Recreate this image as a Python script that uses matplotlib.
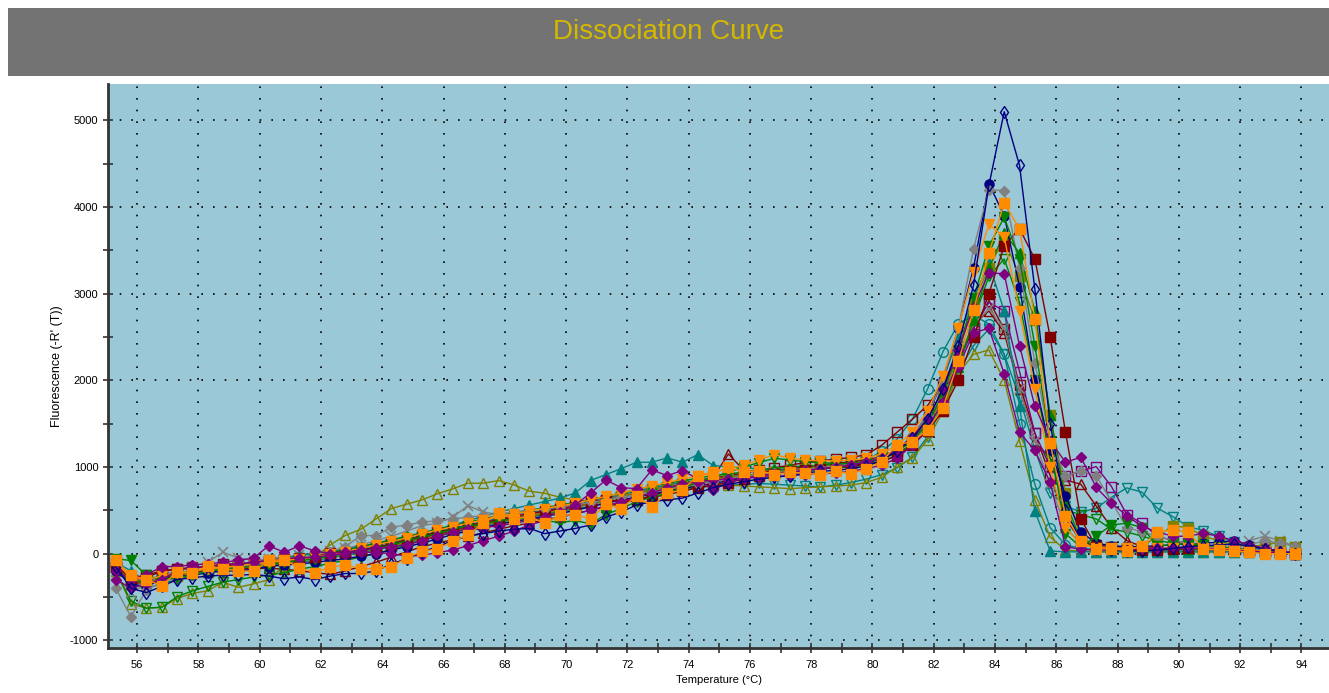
import matplotlib
matplotlib.use("Agg")
import matplotlib.pyplot as plt
from matplotlib.ticker import MultipleLocator

plt.rcParams["font.family"] = ["Liberation Sans", "DejaVu Sans"]
plt.rcParams["axes.unicode_minus"] = False

# temperature grid (deg C)
temps = [55.3, 55.8, 56.3, 56.8, 57.3, 57.8, 58.3, 58.8, 59.3, 59.8,
         60.3, 60.8, 61.3, 61.8, 62.3, 62.8, 63.3, 63.8, 64.3, 64.8,
         65.3, 65.8, 66.3, 66.8, 67.3, 67.8, 68.3, 68.8, 69.3, 69.8,
         70.3, 70.8, 71.3, 71.8, 72.3, 72.8, 73.3, 73.8, 74.3, 74.8,
         75.3, 75.8, 76.3, 76.8, 77.3, 77.8, 78.3, 78.8, 79.3, 79.8,
         80.3, 80.8, 81.3, 81.8, 82.3, 82.8, 83.3, 83.8, 84.3, 84.8,
         85.3, 85.8, 86.3, 86.8, 87.3, 87.8, 88.3, 88.8, 89.3, 89.8,
         90.3, 90.8, 91.3, 91.8, 92.3, 92.8, 93.3, 93.8]

navy_open_diamond = [
    -150, -400, -450, -380, -300, -280, -260, -250, -250, -240,
    -260, -290, -270, -300, -260, -230, -230, -200, -120, -60,
    20, 80, 150, 200, 230, 260, 280, 290, 230, 260,
    290, 330, 420, 480, 560, 600, 620, 640, 700, 760,
    800, 830, 860, 880, 900, 930, 950, 960, 980, 1010,
    1080, 1180, 1330, 1550, 1900, 2400, 3100, 4250, 5100, 4480,
    3050, 1500, 500, 150, 60, 40, 30, 30, 40, 60,
    80, 90, 100, 110, 90, 50, 20, 0]
navy_circle = [
    -200, -350, -380, -300, -260, -250, -220, -200, -200, -180,
    -150, -130, -120, -100, -80, -60, -30, 0, 40, 80,
    120, 170, 220, 260, 300, 340, 370, 400, 430, 460,
    500, 540, 580, 620, 650, 690, 720, 750, 780, 810,
    840, 870, 900, 920, 940, 960, 980, 1000, 1020, 1040,
    1100, 1200, 1350, 1600, 2000, 2600, 3300, 4270, 3900, 3080,
    2000, 1200, 670, 250, 120, 90, 80, 80, 90, 100,
    110, 120, 130, 150, 100, 60, 30, 10]
maroon_square = [
    -150, -280, -250, -200, -180, -170, -150, -140, -130, -120,
    -90, -60, -50, -40, 10, 20, 40, 70, 110, 160,
    200, 250, 280, 320, 360, 390, 430, 460, 490, 520,
    560, 590, 620, 600, 620, 650, 680, 720, 760, 790,
    820, 860, 900, 920, 950, 970, 980, 1000, 1010, 1030,
    1060, 1130, 1250, 1420, 1650, 2000, 2500, 3000, 3550, 3750,
    3400, 2500, 1400, 400, 80, 50, 40, 40, 40, 50,
    60, 60, 50, 40, 30, 20, 10, 0]
maroon_open_square = [
    -100, -300, -280, -200, -180, -160, -150, -120, -120, -100,
    -80, -70, -60, -40, -20, 0, 30, 60, 100, 140,
    180, 220, 260, 300, 330, 370, 400, 430, 460, 500,
    540, 580, 620, 650, 690, 720, 760, 800, 840, 870,
    900, 930, 960, 990, 1020, 1050, 1070, 1090, 1110, 1140,
    1250, 1400, 1550, 1710, 1950, 2250, 2600, 2920, 2590, 1950,
    1390, 900, 400, 150, 100, 80, 70, 60, 60, 60,
    60, 60, 60, 50, 40, 30, 20, 10]
maroon_open_triangle = [
    -120, -350, -330, -280, -250, -220, -200, -190, -180, -170,
    -170, -180, -200, -220, -240, -200, -150, -100, -40, 20,
    80, 120, 160, 200, 240, 280, 320, 350, 390, 420,
    460, 500, 540, 580, 620, 670, 720, 770, 820, 880,
    1150, 960, 940, 960, 980, 1000, 1020, 1040, 1060, 1080,
    1120, 1200, 1330, 1500, 1800, 2200, 2650, 2800, 2550, 1900,
    1300, 1100, 850, 800, 550, 300, 150, 80, 60, 50,
    50, 50, 40, 40, 30, 20, 10, 0]
green_down = [
    -60, -80, -250, -300, -280, -250, -200, -180, -160, -150,
    -130, -100, -80, -60, -30, 0, 30, 60, 100, 150,
    190, 230, 280, 320, 340, 380, 400, 420, 380, 360,
    380, 343, 450, 520, 600, 650, 700, 760, 820, 880,
    940, 1000, 1050, 1100, 1080, 1060, 1050, 1040, 1040, 1050,
    1100, 1180, 1300, 1500, 1850, 2350, 2950, 3550, 3880, 3400,
    2400, 1300, 230, 73, 200, 330, 350, 300, 92, 100,
    115, 100, 80, 60, 40, 30, 20, 10]
green_open_down = [
    -200, -550, -630, -620, -500, -430, -380, -330, -300, -270,
    -250, -220, -180, -150, -110, -80, -40, 0, 50, 100,
    150, 200, 250, 290, 330, 370, 400, 430, 460, 490,
    530, 570, 610, 650, 690, 720, 750, 780, 810, 840,
    870, 900, 920, 940, 960, 970, 980, 990, 1000, 1020,
    1060, 1140, 1260, 1450, 1750, 2150, 2700, 3200, 3400, 2900,
    2000, 1100, 500, 450, 400, 280, 250, 200, 150, 120,
    100, 90, 80, 60, 40, 30, 20, 10]
green_up = [
    -150, -350, -300, -260, -230, -200, -180, -160, -140, -120,
    -100, -80, -50, -20, 10, 40, 80, 120, 160, 200,
    240, 280, 320, 360, 400, 440, 470, 500, 530, 560,
    590, 620, 660, 700, 740, 780, 810, 840, 870, 900,
    920, 940, 960, 980, 1000, 1010, 1020, 1030, 1040, 1060,
    1100, 1160, 1260, 1420, 1700, 2150, 2700, 3300, 3700, 3470,
    2800, 1600, 600, 150, 80, 60, 50, 50, 50, 50,
    50, 50, 50, 40, 30, 20, 10, 0]
teal_up = [
    -100, -200, -330, -300, -250, -200, -180, -150, -120, -100,
    -80, -50, -20, 0, 20, 50, 80, 110, 150, 190,
    230, 280, 330, 380, 430, 480, 520, 560, 600, 640,
    700, 843, 912, 980, 1054, 1054, 1105, 1054, 1143, 1016,
    1000, 990, 980, 970, 960, 970, 980, 1000, 1020, 1040,
    1100, 1200, 1350, 1600, 2000, 2500, 2950, 3350, 2800, 1700,
    490, 30, 20, 20, 20, 20, 20, 20, 20, 20,
    20, 20, 20, 20, 20, 20, 20, 20]
teal_open_down = [
    -150, -350, -400, -350, -300, -250, -220, -200, -180, -160,
    -140, -120, -100, -80, -50, -20, 10, 40, 80, 120,
    160, 200, 240, 280, 320, 360, 390, 420, 450, 480,
    510, 550, 590, 620, 650, 690, 720, 740, 760, 780,
    790, 800, 810, 800, 790, 780, 770, 790, 820, 860,
    910, 990, 1112, 1350, 1700, 2100, 2400, 2590, 2300, 1800,
    1200, 700, 550, 477, 523, 650, 758, 708, 523, 427,
    312, 266, 200, 130, 80, 40, 20, 10]
teal_open_circle = [
    -120, -300, -320, -280, -240, -210, -190, -170, -150, -130,
    -110, -90, -60, -40, -10, 20, 50, 90, 130, 170,
    210, 250, 290, 330, 370, 410, 440, 470, 500, 530,
    560, 600, 640, 680, 720, 760, 790, 820, 850, 870,
    890, 900, 910, 920, 930, 950, 970, 1000, 1030, 1080,
    1180, 1320, 1550, 1900, 2330, 2650, 2750, 2650, 2300, 1500,
    800, 300, 100, 60, 50, 40, 40, 40, 40, 40,
    40, 40, 40, 30, 30, 20, 10, 0]
olive_open_up = [
    -200, -580, -630, -620, -520, -460, -430, -330, -390, -350,
    -300, -140, -80, -40, 100, 210, 280, 400, 520, 570,
    620, 690, 747, 812, 812, 843, 793, 720, 696, 650,
    620, 600, 620, 650, 700, 720, 740, 760, 790, 800,
    790, 780, 770, 760, 750, 760, 770, 780, 790, 820,
    880, 1000, 1100, 1313, 1643, 2080, 2300, 2350, 2000, 1300,
    620, 190, 40, 30, 20, 20, 20, 20, 20, 20,
    20, 20, 20, 20, 20, 20, 20, 20]
olive_square = [
    -150, -300, -330, -300, -260, -230, -210, -190, -170, -150,
    -120, -100, -80, -60, -30, 0, 30, 60, 90, 130,
    170, 210, 250, 290, 330, 370, 400, 430, 470, 500,
    540, 580, 620, 660, 700, 740, 770, 800, 830, 860,
    880, 900, 920, 940, 960, 980, 1000, 1020, 1040, 1060,
    1100, 1180, 1300, 1480, 1800, 2300, 2900, 3300, 3630, 3200,
    2700, 1600, 700, 200, 80, 60, 60, 80, 200, 320,
    300, 200, 150, 100, 80, 100, 130, 80]
purple_diamond = [
    -200, -300, -250, -150, -150, -130, -120, -100, -80, -50,
    90, 15, 90, 30, 0, 20, 40, 60, 80, 100,
    150, 200, 250, 280, 300, 320, 350, 380, 420, 480,
    560, 700, 850, 760, 750, 966, 900, 958, 862, 735,
    820, 870, 900, 920, 940, 960, 980, 1000, 1020, 1060,
    1100, 1200, 1350, 1550, 1900, 2350, 2850, 3240, 3230, 2400,
    1700, 1300, 1054, 1112, 766, 581, 439, 312, 250, 200,
    200, 234, 200, 150, 100, 60, 30, 10]
purple_diamond_low = [
    -300, -400, -350, -300, -200, -150, -160, -130, -120, -100,
    -80, -60, -50, -40, -20, 0, 20, 10, 0, -30,
    -20, 10, 40, 92, 150, 200, 260, 330, 380, 420,
    460, 500, 550, 600, 650, 700, 760, 800, 830, 850,
    860, 870, 880, 890, 900, 910, 920, 930, 950, 980,
    1020, 1100, 1250, 1450, 1750, 2150, 2550, 2600, 2075, 1400,
    1190, 823, 80, 50, 40, 40, 40, 60, 60, 60,
    60, 60, 50, 40, 30, 20, 10, 0]
purple_open_square = [
    -150, -320, -300, -260, -230, -210, -190, -170, -150, -130,
    -110, -90, -70, -50, -20, 10, 40, 70, 110, 150,
    190, 230, 270, 310, 350, 390, 420, 450, 480, 510,
    540, 580, 620, 660, 700, 740, 770, 800, 830, 860,
    880, 900, 920, 940, 960, 980, 1000, 1010, 1030, 1060,
    1100, 1180, 1300, 1500, 1800, 2200, 2600, 2900, 2800, 2100,
    1390, 1000, 900, 950, 1004, 774, 450, 350, 200, 150,
    120, 100, 80, 60, 40, 30, 20, 10]
gray_diamond = [
    -400, -730, -420, -330, -280, -250, -200, -170, -150, -120,
    -100, -80, -50, -20, 20, 80, 208, 208, 304, 330,
    361, 380, 400, 420, 440, 460, 480, 500, 520, 540,
    560, 590, 620, 650, 680, 710, 740, 770, 800, 830,
    860, 890, 910, 930, 950, 970, 990, 1010, 1030, 1060,
    1110, 1200, 1350, 1600, 2000, 2600, 3520, 4200, 4190, 3300,
    2200, 1300, 900, 950, 900, 600, 300, 250, 200, 150,
    120, 100, 80, 60, 100, 150, 120, 90]
gray_x = [
    -250, -450, -350, -250, -200, -150, -100, 15, -50, -80,
    -60, -40, -20, 0, 30, 60, 100, 150, 200, 260,
    323, 350, 419, 554, 480, 450, 440, 450, 470, 500,
    530, 560, 600, 640, 680, 720, 760, 790, 820, 850,
    870, 890, 910, 930, 950, 970, 990, 1010, 1030, 1060,
    1100, 1180, 1300, 1500, 1850, 2250, 2650, 2820, 2600, 1900,
    1300, 800, 300, 120, 80, 60, 50, 50, 60, 70,
    80, 80, 70, 60, 150, 200, 150, 80]
orange_down = [
    -100, -280, -300, -260, -230, -200, -180, -160, -140, -120,
    -100, -80, -60, -40, -10, 20, 60, 100, 140, 180,
    230, 270, 310, 350, 390, 430, 460, 490, 520, 550,
    580, 620, 660, 700, 740, 780, 820, 860, 900, 940,
    980, 1020, 1080, 1143, 1100, 1080, 1070, 1070, 1080, 1100,
    1150, 1250, 1400, 1650, 2050, 2600, 3250, 3800, 3650, 2800,
    1900, 1000, 300, 100, 70, 60, 60, 60, 60, 60,
    60, 60, 60, 50, 40, 30, 20, 10]
orange_square = [
    -80, -250, -300, -370, -215, -230, -140, -175, -200, -205,
    -80, -70, -165, -220, -160, -130, -175, -175, -150, -50,
    25, 55, 140, 215, 350, 465, 400, 427, 350, 440,
    450, 400, 573, 516, 670, 542, 696, 735, 900, 920,
    997, 940, 958, 912, 938, 927, 908, 950, 920, 978,
    1062, 1255, 1293, 1428, 1682, 2217, 2814, 3468, 4045, 3750,
    2710, 1274, 439, 142, 54, 54, 35, 92, 246, 273,
    246, 54, 42, 35, 15, -3, -3, 0]

# (values, colour, marker, filled)
series = [
    (teal_open_circle, "#008080", "o", False),
    (teal_open_down, "#008080", "v", False),
    (olive_open_up, "#808000", "^", False),
    (maroon_open_triangle, "#800000", "^", False),
    (maroon_open_square, "#800000", "s", False),
    (purple_open_square, "#800080", "s", False),
    (green_open_down, "#008000", "v", False),
    (gray_x, "#808080", "x", False),
    (teal_up, "#008080", "^", True),
    (olive_square, "#808000", "s", True),
    (green_up, "#008000", "^", True),
    (navy_circle, "#000080", "o", True),
    (maroon_square, "#800000", "s", True),
    (gray_diamond, "#808080", "D", True),
    (green_down, "#008000", "v", True),
    (orange_down, "#FF8C00", "v", True),
    (purple_diamond_low, "#800080", "D", True),
    (purple_diamond, "#800080", "D", True),
    (navy_open_diamond, "#000080", "d", False),
    (orange_square, "#FF8C00", "s", True),
]

fig = plt.figure(figsize=(13.29, 6.93), dpi=100)

# title banner
banner = fig.add_axes([8 / 1329, 617 / 693, 1 - 8 / 1329, 68 / 693])
banner.set_facecolor("#737373")
banner.set_xticks([])
banner.set_yticks([])
for s in banner.spines.values():
    s.set_visible(False)
banner.text(0.5, 0.65, "Dissociation Curve", color="#D4B800", fontsize=20,
            ha="center", va="center", transform=banner.transAxes)

ax = fig.add_axes([108 / 1329, 45 / 693, 1221 / 1329, 564 / 693])
ax.set_facecolor("#9BC8D6")

for vals, col, mk, filled in series:
    size = 5.5 if mk in ("D", "d") else 6.5
    if mk == "x":
        ax.plot(temps, vals, color=col, lw=1, marker="x", ms=7, mew=1.2)
    elif filled:
        ax.plot(temps, vals, color=col, lw=1, marker=mk, ms=size,
                mec=col, mfc=col)
    else:
        ax.plot(temps, vals, color=col, lw=1, marker=mk, ms=size + 0.5,
                mec=col, mfc="none", mew=1)

ax.set_xlim(55.05, 94.9)
ax.set_ylim(-1090, 5420)
ax.xaxis.set_major_locator(MultipleLocator(2))
ax.xaxis.set_minor_locator(MultipleLocator(1))
ax.yaxis.set_major_locator(MultipleLocator(1000))
ax.yaxis.set_minor_locator(MultipleLocator(500))
ax.grid(True, which="major", color="black", linestyle=(0, (1, 6)), lw=1.2)
ax.set_axisbelow(True)

for side in ("top", "right"):
    ax.spines[side].set_visible(False)
for side in ("left", "bottom"):
    ax.spines[side].set_linewidth(2)
    ax.spines[side].set_color("#333333")
ax.tick_params(which="both", direction="inout", length=7, width=1.2,
               labelsize=8, color="#333333")
ax.tick_params(axis="x", pad=5)

ax.set_xlabel("Temperature (°C)", fontsize=8, labelpad=4)
ax.set_ylabel("Fluorescence (-R' (T))", fontsize=9, labelpad=5)

fig.savefig("out.png", dpi=100)
